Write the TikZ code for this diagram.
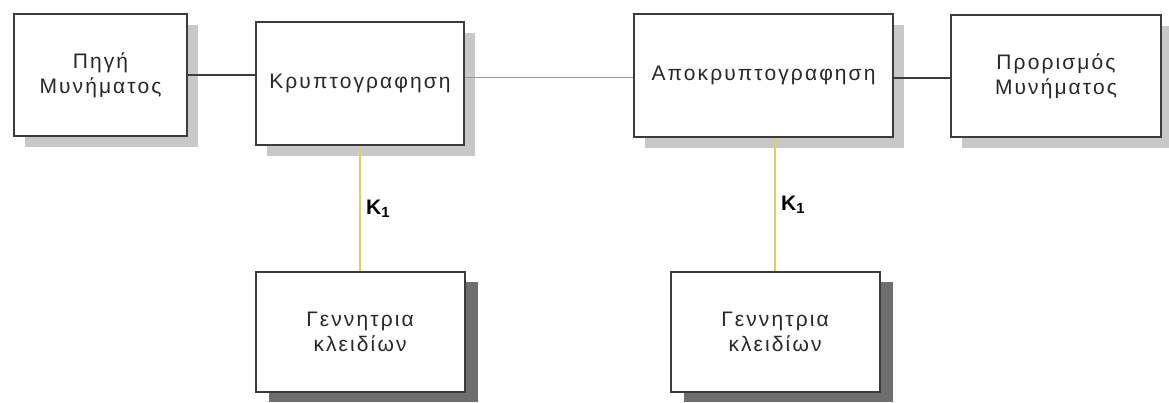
\documentclass[tikz,border=0pt]{standalone}
\usepackage{fontspec}
\usepackage{tikz}
\usetikzlibrary{positioning,shadows}
\setmainfont{Liberation Sans}
\newfontfamily\boxfont[LetterSpace=10]{Liberation Sans}
\definecolor{boxedge}{RGB}{60,60,60}
\definecolor{lightshade}{RGB}{200,200,200}
\definecolor{darkshade}{RGB}{110,110,110}
\definecolor{keyline}{RGB}{220,205,100}
\definecolor{textgray}{RGB}{40,40,40}

\begin{document}
\begin{tikzpicture}[
  x=1pt,y=-1pt,
  blockbox/.style={draw=boxedge,fill=white,line width=2pt,align=center,
    font=\boxfont\fontsize{21}{25}\selectfont,text=textgray,inner sep=0pt},
  softshadow/.style={drop shadow={shadow xshift=11pt,shadow yshift=-11pt,
    fill=lightshade,opacity=1}},
  hardshadow/.style={drop shadow={shadow xshift=13pt,shadow yshift=-10pt,
    fill=darkshade,opacity=1}},
  wire/.style={draw=boxedge,line width=2.4pt},
  thinwire/.style={draw=gray!80,line width=1pt},
  keywire/.style={draw=keyline,line width=1.5pt},
  keylabel/.style={font=\bfseries\fontsize{21}{24}\selectfont,text=black}
]
\useasboundingbox (0,0) rectangle (1169,403);

% -------------------------------------------------------------------------
% Message path
% -------------------------------------------------------------------------
\node[blockbox,softshadow,minimum width=173pt,minimum height=122pt] (source) at (100.5,75)
  {Πηγή\\Μυνήματος};
\node[blockbox,softshadow,minimum width=208pt,minimum height=123pt] (encrypt) at (360,83.5)
  {Κρυπτογραφηση};
\node[blockbox,softshadow,minimum width=259pt,minimum height=123pt] (decrypt) at (763.5,75.5)
  {Αποκρυπτογραφηση};
\node[blockbox,softshadow,minimum width=210pt,minimum height=122pt] (target) at (1056,76)
  {Προρισμός\\Μυνήματος};

\draw[wire] (source.east) -- (source.east -| encrypt.west);
\draw[thinwire] (encrypt.east |- 0,78) -- (decrypt.west |- 0,78);
\draw[wire,line width=1.8pt] (decrypt.east |- 0,78) -- (target.west |- 0,78);

% -------------------------------------------------------------------------
% Key generators
% -------------------------------------------------------------------------
\node[blockbox,hardshadow,minimum width=209pt,minimum height=120pt] (keygenA) at (360,332)
  {Γεννητρια\\κλειδίων};
\node[blockbox,hardshadow,minimum width=209pt,minimum height=120pt] (keygenB) at (775,332)
  {Γεννητρια\\κλειδίων};

\draw[keywire] (encrypt.south) -- (keygenA.north)
  node[keylabel,midway,right=2pt] {K$_{\mathbf{1}}$};
\draw[keywire] (keygenB.north |- decrypt.south) -- (keygenB.north)
  node[keylabel,midway,right=2pt] {K$_{\mathbf{1}}$};
\end{tikzpicture}
\end{document}
